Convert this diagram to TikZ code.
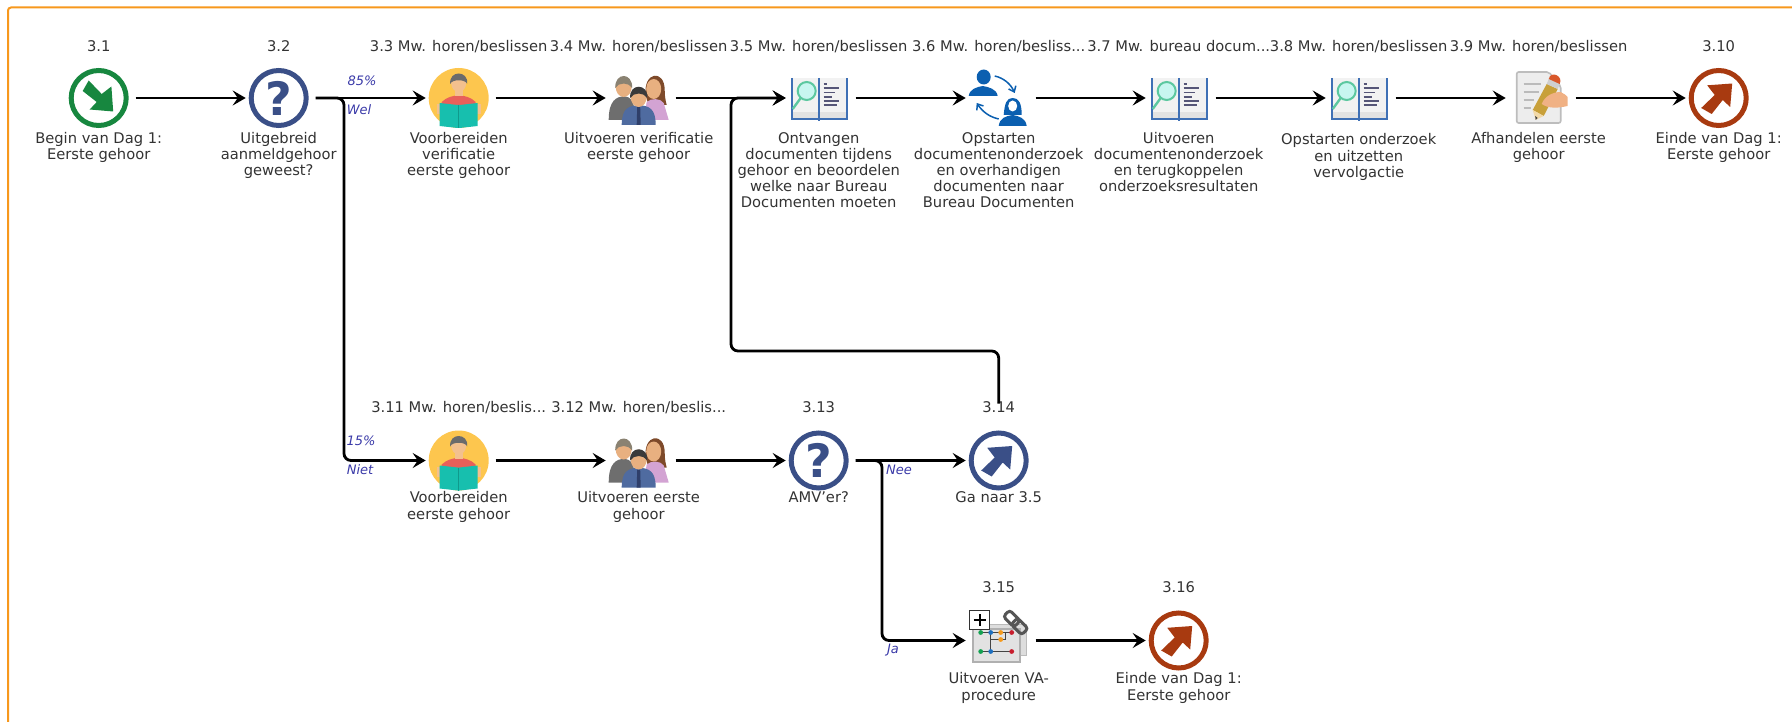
\documentclass[tikz,border=0pt]{standalone}
\usepackage{fontspec}
\setmainfont{DejaVu Sans}
\newfontfamily\qfont{DejaVu Sans}
\usetikzlibrary{arrows.meta}
\definecolor{frameor}{HTML}{F7981D}
\definecolor{evgreen}{HTML}{17873F}
\definecolor{evbrown}{HTML}{A83A10}
\definecolor{evblue}{HTML}{3A4F87}
\definecolor{txt}{HTML}{333333}
\definecolor{lblblue}{HTML}{3A3AA8}
\definecolor{bookblue}{HTML}{3F70B5}
\definecolor{exblue}{HTML}{0B5FB0}
\newcommand\hexc[1]{\definecolor{h#1}{HTML}{#1}}
\hexc{FDC64E}\hexc{E8605A}\hexc{F3C08E}\hexc{6B6B6B}\hexc{17BFAE}\hexc{0F9A8C}
\hexc{6E6E6E}\hexc{E8B080}\hexc{8A8272}\hexc{7E4A2A}\hexc{D3A3D3}\hexc{4F6BA0}\hexc{2F3F6A}\hexc{3A3A3A}
\hexc{F2F2F2}\hexc{E2E2E2}\hexc{5CC8A0}\hexc{C8F6F0}\hexc{555577}
\hexc{BDBDBD}\hexc{EDEDED}\hexc{BBBBBB}\hexc{F0B184}\hexc{C8A03A}\hexc{F2D9A8}\hexc{444444}\hexc{CFCFCF}\hexc{D9582B}
\hexc{DDDDDD}\hexc{B0B0B0}\hexc{12A150}\hexc{1C6FC0}\hexc{F59A1C}\hexc{C81E2E}\hexc{555555}\hexc{333333}
\tikzset{
  iconbox/.style={circle,minimum size=60pt,inner sep=0pt,outer sep=0pt},
  flow/.style={draw=black,line width=2.8pt,-{Stealth[length=13pt,width=15pt,inset=5pt]},shorten >=3pt,shorten <=7pt,rounded corners=7pt},
  toplabel/.style={font=\fontsize{14.7}{16.4}\selectfont,text=txt,inner sep=0pt,anchor=base},
  desclabel/.style={font=\fontsize{14.7}{16.2}\selectfont,text=txt,inner sep=0pt,anchor=north,align=center},
  edgelabel/.style={font=\fontsize{13}{14}\selectfont\itshape,text=lblblue,inner sep=0pt},
  pics/endev/.style={code={
    \draw[line width=5pt,draw=evbrown] (0,0) circle (27.5pt);
    \fill[evbrown] (13.5,-14.5)--(11.5,9)--(4,2)--(-7,16)--(-17.5,10)--(-4,-3)--(-11.5,-12.7)--cycle;
  }},
  pics/gotoev/.style={code={
    \draw[line width=5pt,draw=evblue] (0,0) circle (27.5pt);
    \fill[evblue] (13.5,-14.5)--(11.5,9)--(4,2)--(-7,16)--(-17.5,10)--(-4,-3)--(-11.5,-12.7)--cycle;
  }},
  pics/startev/.style={code={
    \draw[line width=5pt,draw=evgreen] (0,0) circle (27.5pt);
    \fill[evgreen] (14.5,13.5)--(-9,11.5)--(-2,4)--(-16,-7)--(-10,-17.5)--(3,-4)--(12.7,-11.5)--cycle;
  }},
  pics/gateway/.style={code={
    \draw[line width=5pt,draw=evblue] (0,0) circle (27.5pt);
    \node[inner sep=0pt,text=evblue,font=\fontsize{46}{46}\selectfont\qfont\bfseries] (-qm) at (0,0) {?};
  }},
  pics/reader/.style={code={
    \fill[hFDC64E] (0,0) circle (30pt);
    \fill[hE8605A] (-17,4) .. controls (-12,-1) and (-6,-2) .. (0,-3) .. controls (6,-2) and (12,-1) .. (17,4) -- (17,10) -- (-17,10) -- cycle;
    \fill[hF3C08E] (-4,-10) rectangle (4,-2);
    \fill[hF3C08E] (0,-15) ellipse (7.5pt and 9pt);
    \fill[h6B6B6B] (-8.5,-14) .. controls (-10,-28) and (10,-28) .. (8.5,-14) .. controls (7,-19) and (-7,-19) .. (-8.5,-14) -- cycle;
    \fill[hF3C08E] (-22,6) rectangle (-17,16);
    \fill[hF3C08E] (17,6) rectangle (22,16);
    \fill[h17BFAE] (-19,5) -- (-1,7) -- (1,7) -- (19,5) -- (19,28) -- (1,30) -- (-1,30) -- (-19,28) -- cycle;
    \draw[h0F9A8C,line width=.8pt] (0,7) -- (0,30);
  }},
  pics/people/.style={code={
    \fill[h6E6E6E] (-30,22) .. controls (-30,2) and (-22,-1) .. (-15,-2) .. controls (-8,-1) and (-4,2) .. (-3,22) -- cycle;
    \fill[hE8B080] (-15,-11) ellipse (8pt and 10pt);
    \fill[h8A8272] (-23.5,-10) .. controls (-24,-26) and (-6,-26) .. (-6.5,-10) .. controls (-10,-16) and (-20,-16) .. (-23.5,-10) -- cycle;
    \fill[h7E4A2A] (7,-2) .. controls (4,-27) and (26,-29) .. (26,-8) .. controls (26,-1) and (27,3) .. (28,7) -- (10,7) -- cycle;
    \fill[hD3A3D3] (5,22) -- (8,4) .. controls (12,0) and (22,0) .. (25,5) -- (30,22) -- cycle;
    \fill[hE8B080] (15,-9) ellipse (7.5pt and 10pt);
    \fill[h4F6BA0] (-17,27) .. controls (-17,10) and (-10,8) .. (0,7) .. controls (10,8) and (17,10) .. (17,27) -- cycle;
    \fill[h2F3F6A] (-1.5,9) -- (1.5,9) -- (2,27) -- (-2,27) -- cycle;
    \fill[hE8B080] (0,-1) ellipse (8pt and 10pt);
    \fill[h3A3A3A] (-8.5,0) .. controls (-10,-15) and (10,-15) .. (8.5,0) .. controls (5,-6) and (-5,-6) .. (-8.5,0) -- cycle;
  }},
  pics/lookup/.style={code={
    \fill[hF2F2F2] (-27,-20) rectangle (28,20);
    \fill[hE2E2E2] (-27,14) rectangle (28,20);
    \draw[bookblue,line width=1.8pt] (-27,-20) -- (-27,21) -- (28,21) -- (28,-20);
    \draw[bookblue,line width=2pt] (0,-20) -- (0,23);
    \draw[h5CC8A0,line width=2.4pt] (-18,0) -- (-26,11);
    \draw[h5CC8A0,line width=2pt,fill=hC8F6F0] (-12,-7) circle (9pt);
    \draw[h555577,line width=1.4pt] (5,-14) -- (8,-14) (5,-10) -- (20,-10) (5,-5.5) -- (16,-5.5) (5,-1) -- (13,-1) (5,3) -- (20,3) (5,7) -- (18,7);
  }},
  pics/exchange/.style={code={
    \fill[exblue] (-15,-21) ellipse (7pt and 7.5pt);
    \fill[exblue] (-30,-2) .. controls (-29,-9) and (-22,-11) .. (-16,-12) .. controls (-10,-11) and (-2,-9) .. (-1,-2) -- cycle;
    \fill[exblue] (5,17) .. controls (6,5) and (8,0) .. (14,0) .. controls (20,0) and (23,5) .. (23,17) -- cycle;
    \fill[white] (14,8) ellipse (4.5pt and 5.5pt);
    \fill[exblue] (0,28) .. controls (1,20) and (7,18) .. (14,17) .. controls (20,18) and (27,20) .. (28,28) -- cycle;
    \draw[exblue,line width=1.5pt,-{Straight Barb[length=5pt,width=8pt]}] (-4,-22) .. controls (5,-20) and (12,-14) .. (16,-5);
    \draw[exblue,line width=1.5pt,-{Straight Barb[length=5pt,width=8pt]}] (0,21) .. controls (-9,19) and (-16,14) .. (-22,5);
  }},
  pics/writing/.style={code={
    \draw[hBDBDBD,line width=1.6pt,fill=hEDEDED,rounded corners=2pt] (-22,-26) -- (10,-26) -- (22,-12) -- (22,25) -- (-22,25) -- cycle;
    \draw[hBBBBBB,line width=1.5pt] (-15,-14) -- (2,-14) (-15,-6) -- (0,-6) (-15,2) -- (-5,2) (-15,10) -- (-8,10);
    \fill[hC8A03A] (-6,12) -- (8,-14) -- (19,-9) -- (5,18) -- cycle;
    \fill[hF2D9A8] (-6,12) -- (5,18) -- (-3,22) -- cycle;
    \fill[h444444] (-3.5,18) -- (-1,20) -- (-3,22) -- cycle;
    \fill[hCFCFCF] (8,-14) -- (10,-19) -- (21,-14) -- (19,-9) -- cycle;
    \fill[hD9582B] (10,-19) .. controls (12,-28) and (25,-22) .. (21,-14) -- cycle;
    \fill[hF0B184] (3,6) .. controls (6,-2) and (14,-6) .. (22,-6) .. controls (25,-4) and (28,-3) .. (29,-1) -- (29,8) .. controls (20,10) and (10,11) .. (3,6) -- cycle;
  }},
  pics/subproc/.style={code={
    \draw[hBBBBBB,line width=1.5pt,fill=hDDDDDD] (-20,-16) rectangle (28,15);
    \draw[hB0B0B0,line width=2pt,fill=hE2E2E2] (-26,-12) rectangle (21,21);
    \draw[h444444,line width=1pt] (-18,-8) -- (13,-8) (-8,-8) -- (-8,11) (-8,-1) -- (2,-1) -- (7,-1) -- (7,-8) (-18,11) -- (13,11);
    \fill[h12A150] (-18,-8) circle (2.4pt) (-18,11) circle (2.4pt);
    \fill[h1C6FC0] (-8,-8) circle (2.4pt) (-8,11) circle (2.4pt);
    \fill[hF59A1C] (2,-8) circle (2.4pt) (2,-1) circle (2.4pt);
    \fill[hC81E2E] (13,-8) circle (2.4pt) (13,11) circle (2.4pt);
    \draw[h555555,line width=3pt,rotate around={-45:(17,-18)},rounded corners=3pt] (4,-22.5) rectangle (19,-13.5) (15,-22.5) rectangle (30,-13.5);
    \draw[h333333,line width=1pt,fill=white] (-29,-30) rectangle (-9,-11);
    \draw[black,line width=1.8pt] (-25,-20.5) -- (-13,-20.5) (-19,-26.5) -- (-19,-14.5);
  }},
}
% id, x, y, icon, top label, description, description offset, top offset
\newcommand\flowitem[8]{%
  \node[iconbox] (n#1) at (#2,#3) {};
  \pic (ic#1) at (n#1) {#4};
  \node[toplabel] (t#1) at ([yshift=#8pt]n#1.center) {#5};
  \node[desclabel] (d#1) at ([yshift=#7pt]n#1.center) {#6};
}
\begin{document}
\begin{tikzpicture}[x=1pt,y=-1pt]
\useasboundingbox (0,0) rectangle (1792,722);
\draw[frameor,line width=2pt,rounded corners=3pt] (8,722) -- (8,7.5) -- (1792,7.5);
\flowitem{1}{98.7}{98}{startev}{3.1}{Begin van Dag 1:\\Eerste gehoor}{-34}{46}
\flowitem{2}{278.7}{98}{gateway}{3.2}{Uitgebreid\\aanmeldgehoor\\geweest?}{-34}{46}
\flowitem{3}{458.7}{98}{reader}{3.3 Mw. horen/beslissen}{Voorbereiden\\verificatie\\eerste gehoor}{-34}{46}
\flowitem{4}{638.7}{98}{people}{3.4 Mw. horen/beslissen}{Uitvoeren verificatie\\eerste gehoor}{-34}{46}
\flowitem{5}{818.7}{98}{lookup}{3.5 Mw. horen/beslissen}{Ontvangen\\documenten tijdens\\gehoor en beoordelen\\welke naar Bureau\\Documenten moeten}{-34}{46}
\flowitem{6}{998.7}{98}{exchange}{3.6 Mw. horen/besliss...}{Opstarten\\documentenonderzoek\\en overhandigen\\documenten naar\\Bureau Documenten}{-34}{46}
\flowitem{7}{1178.7}{98}{lookup}{3.7 Mw. bureau docum...}{Uitvoeren\\documentenonderzoek\\en terugkoppelen\\onderzoeksresultaten}{-34}{46}
\flowitem{8}{1358.7}{98}{lookup}{3.8 Mw. horen/beslissen}{Opstarten onderzoek\\en uitzetten\\vervolgactie}{-35.5}{46}
\flowitem{9}{1538.7}{98}{writing}{3.9 Mw. horen/beslissen}{Afhandelen eerste\\gehoor}{-34}{46}
\flowitem{10}{1718.7}{98}{endev}{3.10}{Einde van Dag 1:\\Eerste gehoor}{-34}{46}
\flowitem{11}{458.7}{460.5}{reader}{3.11 Mw. horen/beslis...}{Voorbereiden\\eerste gehoor}{-31}{48}
\flowitem{12}{638.7}{460.5}{people}{3.12 Mw. horen/beslis...}{Uitvoeren eerste\\gehoor}{-31}{48}
\flowitem{13}{818.7}{460.5}{gateway}{3.13}{AMV'er?}{-31}{48}
\flowitem{14}{998.7}{460.5}{gotoev}{3.14}{Ga naar 3.5}{-31}{48}
\flowitem{15}{998.7}{640.5}{subproc}{3.15}{Uitvoeren VA-\\procedure}{-32}{48}
\flowitem{16}{1178.7}{640.5}{endev}{3.16}{Einde van Dag 1:\\Eerste gehoor}{-32}{48}
\coordinate (j2) at (344,98);
\coordinate (j13) at (882,460.5);
\coordinate (c1) at (998.7,351);
\coordinate (c2) at (731,351);
\coordinate (c3) at (731,98);
\draw[flow] (n1) -- (n2);
\draw[flow] (n2) -- (n3);
\draw[flow] (n2) -- (j2) -- (j2 |- n11) -- (n11);
\draw[flow] (n3) -- (n4);
\draw[flow] (n4) -- (n5);
\draw[flow] (n5) -- (n6);
\draw[flow] (n6) -- (n7);
\draw[flow] (n7) -- (n8);
\draw[flow] (n8) -- (n9);
\draw[flow] (n9) -- (n10);
\draw[flow] (n11) -- (n12);
\draw[flow] (n12) -- (n13);
\draw[flow] (n13) -- (n14);
\draw[flow] (n13) -- (j13) -- (j13 |- n15) -- (n15);
\draw[flow] (n15) -- (n16);
\draw[flow,shorten <=27pt] (n14.north) -- (c1) -- (c2) -- (c3) -- (n5);
\node[edgelabel] (e1) at (362,81) {85\%};
\node[edgelabel] (e2) at (359,110) {Wel};
\node[edgelabel] (e3) at (361,441) {15\%};
\node[edgelabel] (e4) at (360,470) {Niet};
\node[edgelabel] (e5) at (899,470) {Nee};
\node[edgelabel] (e6) at (893,650) {Ja};
\end{tikzpicture}
\end{document}
